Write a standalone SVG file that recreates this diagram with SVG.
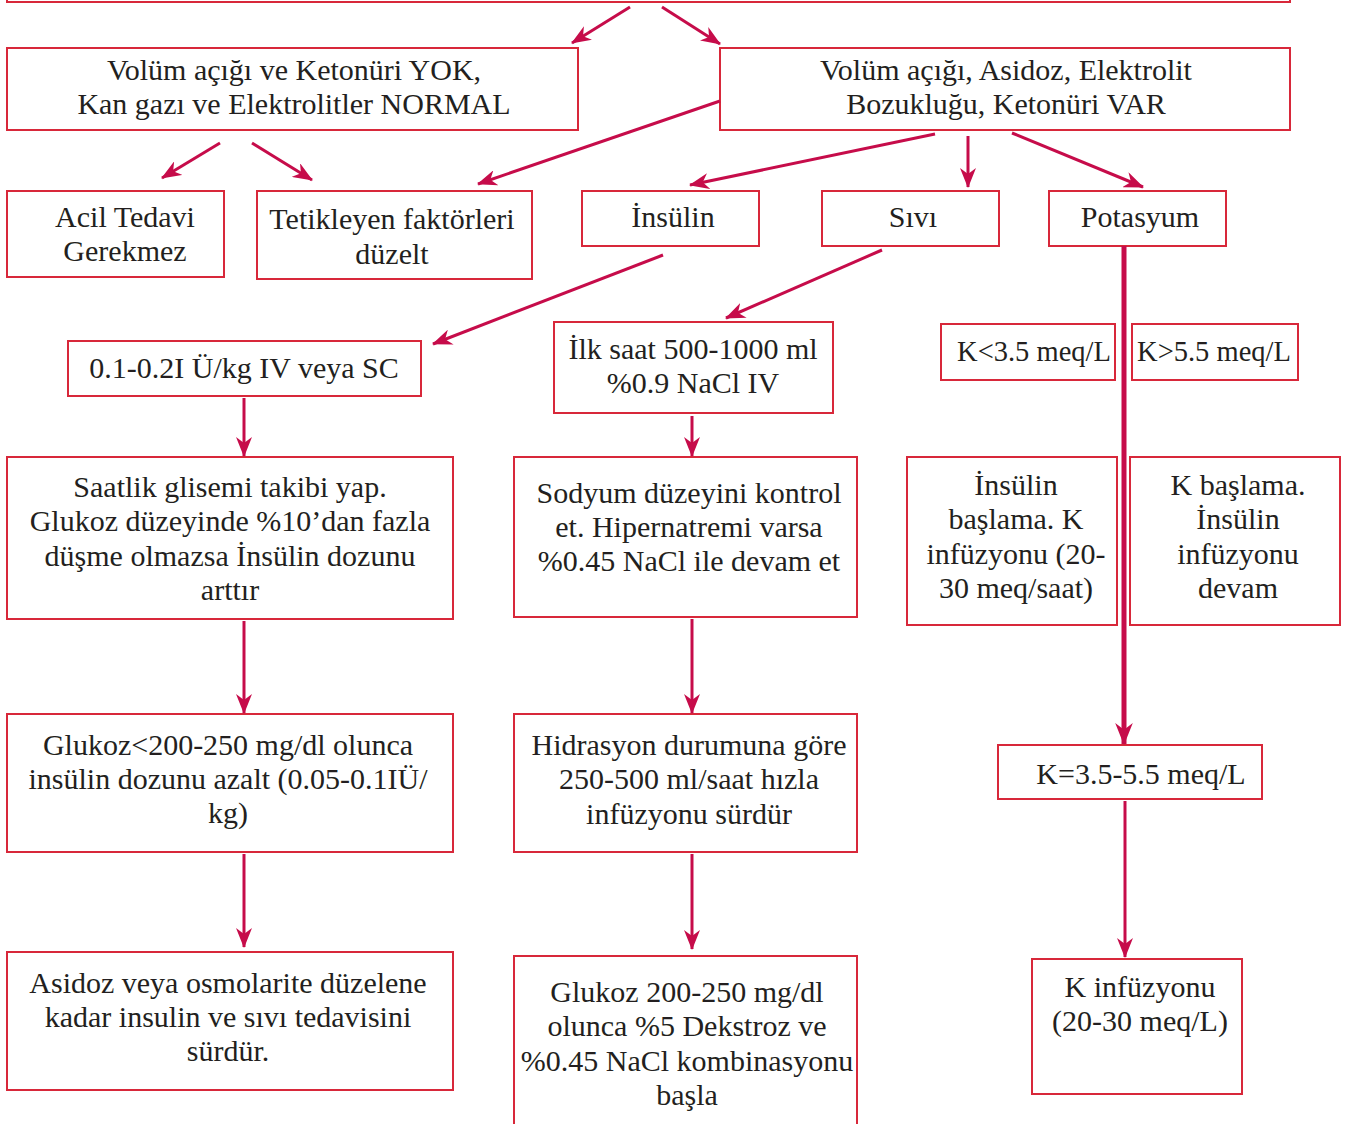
<svg xmlns="http://www.w3.org/2000/svg" width="1357" height="1124" viewBox="0 0 1357 1124">
<style>
.box{fill:#fff;stroke:#d8283a;stroke-width:2}
.t{font-family:"Liberation Serif","Times New Roman",serif;font-size:30px;fill:#231f20;text-anchor:middle}
.s{font-size:28.5px}
.c{stroke:#c60c4a;stroke-width:3;fill:none;marker-end:url(#ah)}
.ct{stroke:#c60c4a;stroke-width:5;fill:none;marker-end:url(#ah2)}
</style>
<defs>
<marker id="ah" viewBox="0 0 20 16" refX="19" refY="8" markerWidth="20" markerHeight="16" markerUnits="userSpaceOnUse" orient="auto">
<path d="M0,0 L20,8 L0,16 L6,8 z" fill="#c60c4a"/>
</marker>
<marker id="ah2" viewBox="0 0 20 16" refX="19" refY="8" markerWidth="22" markerHeight="18" markerUnits="userSpaceOnUse" orient="auto">
<path d="M0,0 L20,8 L0,16 L6,8 z" fill="#c60c4a"/>
</marker>
</defs>
<rect width="1357" height="1124" fill="#fff"/>
<g id="top"><rect class="box" x="7" y="-40" width="1283" height="42"/></g>
<g id="n1"><rect class="box" x="7" y="48" width="571" height="82"/>
<text class="t" x="294" y="80">Volüm açığı ve Ketonüri YOK,</text>
<text class="t" x="294" y="114">Kan gazı ve Elektrolitler NORMAL</text></g>
<g id="n2"><rect class="box" x="720" y="48" width="570" height="82"/>
<text class="t" x="1006" y="80">Volüm açığı, Asidoz, Elektrolit</text>
<text class="t" x="1006" y="114">Bozukluğu, Ketonüri VAR</text></g>
<g id="n3"><rect class="box" x="7" y="191" width="217" height="86"/>
<text class="t" x="125" y="227">Acil Tedavi</text>
<text class="t" x="125" y="261">Gerekmez</text></g>
<g id="n4"><rect class="box" x="257" y="191" width="275" height="88"/>
<text class="t" x="392" y="229">Tetikleyen faktörleri</text>
<text class="t" x="392" y="264">düzelt</text></g>
<g id="n5"><rect class="box" x="582" y="191" width="177" height="55"/>
<text class="t" x="673" y="227">İnsülin</text></g>
<g id="n6"><rect class="box" x="822" y="191" width="177" height="55"/>
<text class="t" x="913" y="227">Sıvı</text></g>
<g id="n7"><rect class="box" x="1049" y="191" width="177" height="55"/>
<text class="t" x="1140" y="227">Potasyum</text></g>
<g id="n8"><rect class="box" x="68" y="341" width="353" height="55"/>
<text class="t" x="244" y="378">0.1-0.2I Ü/kg IV veya SC</text></g>
<g id="n9"><rect class="box" x="554" y="322" width="279" height="91"/>
<text class="t" x="693" y="359">İlk saat 500-1000 ml</text>
<text class="t" x="693" y="393">%0.9 NaCl IV</text></g>
<g id="n10"><rect class="box" x="7" y="457" width="446" height="162"/>
<text class="t" x="230" y="497">Saatlik glisemi takibi yap.</text>
<text class="t" x="230" y="531">Glukoz düzeyinde %10’dan fazla</text>
<text class="t" x="230" y="566">düşme olmazsa İnsülin dozunu</text>
<text class="t" x="230" y="600">arttır</text></g>
<g id="n11"><rect class="box" x="514" y="457" width="343" height="160"/>
<text class="t" x="689" y="503">Sodyum düzeyini kontrol</text>
<text class="t" x="689" y="537">et. Hipernatremi varsa</text>
<text class="t" x="689" y="571">%0.45 NaCl ile devam et</text></g>
<g id="n12"><rect class="box" x="7" y="714" width="446" height="138"/>
<text class="t" x="228" y="755">Glukoz&lt;200-250 mg/dl olunca</text>
<text class="t" x="228" y="789">insülin dozunu azalt (0.05-0.1IÜ/</text>
<text class="t" x="228" y="823">kg)</text></g>
<g id="n13"><rect class="box" x="514" y="714" width="343" height="138"/>
<text class="t" x="689" y="755">Hidrasyon durumuna göre</text>
<text class="t" x="689" y="789">250-500 ml/saat hızla</text>
<text class="t" x="689" y="824">infüzyonu sürdür</text></g>
<g id="n14"><rect class="box" x="7" y="952" width="446" height="138"/>
<text class="t" x="228" y="993">Asidoz veya osmolarite düzelene</text>
<text class="t" x="228" y="1027">kadar insulin ve sıvı tedavisini</text>
<text class="t" x="228" y="1061">sürdür.</text></g>
<g id="n15"><rect class="box" x="514" y="956" width="343" height="180"/>
<text class="t" x="687" y="1002">Glukoz 200-250 mg/dl</text>
<text class="t" x="687" y="1036">olunca %5 Dekstroz ve</text>
<text class="t" x="687" y="1071">%0.45 NaCl kombinasyonu</text>
<text class="t" x="687" y="1105">başla</text></g>
<g id="n16"><rect class="box" x="941" y="324" width="174" height="56"/>
<text class="t s" x="1034" y="361">K&lt;3.5 meq/L</text></g>
<g id="n17"><rect class="box" x="1132" y="324" width="166" height="56"/>
<text class="t s" x="1214" y="361">K&gt;5.5 meq/L</text></g>
<g id="n18"><rect class="box" x="907" y="457" width="210" height="168"/>
<text class="t" x="1016" y="495">İnsülin</text>
<text class="t" x="1016" y="529">başlama. K</text>
<text class="t" x="1016" y="564">infüzyonu (20-</text>
<text class="t" x="1016" y="598">30 meq/saat)</text></g>
<g id="n19"><rect class="box" x="1130" y="457" width="210" height="168"/>
<text class="t" x="1238" y="495">K başlama.</text>
<text class="t" x="1238" y="529">İnsülin</text>
<text class="t" x="1238" y="564">infüzyonu</text>
<text class="t" x="1238" y="598">devam</text></g>
<g id="n20"><rect class="box" x="998" y="745" width="264" height="54"/>
<text class="t" x="1141" y="784">K=3.5-5.5 meq/L</text></g>
<g id="n21"><rect class="box" x="1032" y="959" width="210" height="135"/>
<text class="t" x="1140" y="997">K infüzyonu</text>
<text class="t" x="1140" y="1031">(20-30 meq/L)</text></g>
<g id="connectors">
<line class="c" x1="630" y1="7" x2="572" y2="43"/>
<line class="c" x1="662" y1="7" x2="720" y2="44"/>
<line class="c" x1="220" y1="143" x2="162" y2="178"/>
<line class="c" x1="252" y1="143" x2="312" y2="180"/>
<line class="c" x1="720" y1="101" x2="478" y2="184"/>
<line class="c" x1="935" y1="134" x2="690" y2="185"/>
<line class="c" x1="968" y1="136" x2="968" y2="187"/>
<line class="c" x1="1012" y1="133" x2="1143" y2="187"/>
<line class="c" x1="663" y1="255" x2="433" y2="344"/>
<line class="c" x1="882" y1="250" x2="726" y2="318"/>
<line class="c" x1="244" y1="398" x2="244" y2="456"/>
<line class="c" x1="692" y1="416" x2="692" y2="456"/>
<line class="c" x1="244" y1="621" x2="244" y2="713"/>
<line class="c" x1="692" y1="619" x2="692" y2="713"/>
<line class="c" x1="244" y1="854" x2="244" y2="947"/>
<line class="c" x1="692" y1="854" x2="692" y2="949"/>
<line class="ct" x1="1124" y1="246" x2="1124" y2="744"/>
<line class="c" x1="1125" y1="801" x2="1125" y2="957"/>
</g>
</svg>
